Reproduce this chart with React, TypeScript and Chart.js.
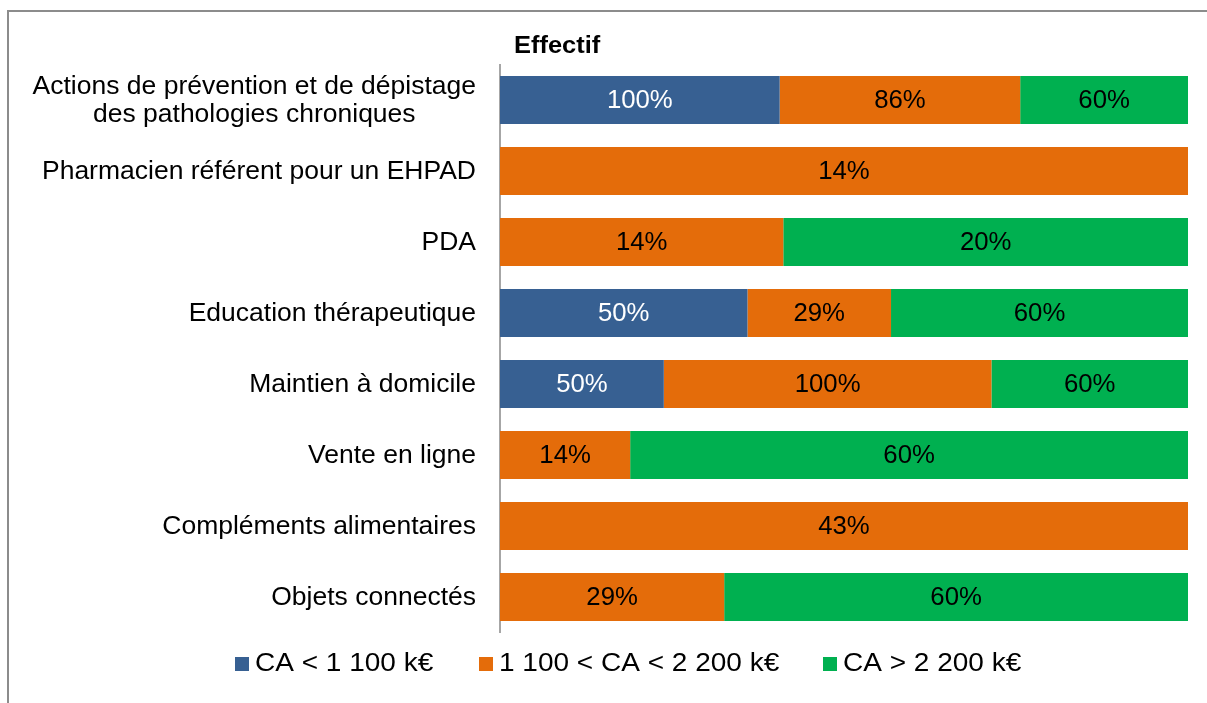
import React, { useEffect, useRef } from "react";
import { Chart, registerables } from "chart.js";

Chart.register(...registerables);

const categories: string[][] = [
  ["Actions de prévention et de dépistage", "des pathologies chroniques"],
  ["Pharmacien référent pour un EHPAD"],
  ["PDA"],
  ["Education thérapeutique"],
  ["Maintien à domicile"],
  ["Vente en ligne"],
  ["Compléments alimentaires"],
  ["Objets connectés"],
];
const seriesNames = ["CA < 1 100 k€", "1 100 < CA < 2 200 k€", "CA > 2 200 k€"];
const lowCA = [100, 0, 0, 50, 50, 0, 0, 0];
const midCA = [86, 14, 14, 29, 100, 14, 43, 29];
const highCA = [60, 0, 20, 60, 60, 60, 0, 60];
const colors = ["#376092", "#E46C0A", "#00B050"];
const labelColors = ["#ffffff", "#000000", "#000000"];
const titleText = "Effectif";

const FONT = "'Liberation Sans', Arial, sans-serif";

function drawText(ctx: CanvasRenderingContext2D, text: string, x: number, y: number, align: "left" | "center" | "right", sx: number) {
  const w = ctx.measureText(text).width * sx;
  let left = x;
  if (align === "center") left = x - w / 2;
  else if (align === "right") left = x - w;
  ctx.save();
  ctx.translate(left, y);
  ctx.scale(sx, 1);
  ctx.textAlign = "left";
  ctx.fillText(text, 0, 0);
  ctx.restore();
}

export default function App() {
  const ref = useRef<HTMLCanvasElement>(null);
  useEffect(() => {
    const raw = [lowCA, midCA, highCA];
    const totals = categories.map((_, i) => raw.reduce((s, a) => s + a[i], 0));
    const norm = raw.map((a) => a.map((v, i) => (v ? (v / totals[i]) * 100 : null)));

    const drawPlugin = {
      id: "custom",
      afterDraw(chart: any) {
        const ctx = chart.ctx as CanvasRenderingContext2D;
        const area = chart.chartArea;
        const yScale = chart.scales.y;
        ctx.save();
        ctx.textBaseline = "middle";
        // title
        ctx.font = `bold 24px ${FONT}`;
        ctx.fillStyle = "#000";
        drawText(ctx, titleText, area.left + 14, 46, "left", 1.06);
        // y labels
        ctx.font = `25px ${FONT}`;
        const lsx = 1.06;
        categories.forEach((lines, i) => {
          const yc = yScale.getPixelForValue(i) + 1.5;
          const lh = 28;
          const widths = lines.map((l) => ctx.measureText(l).width * lsx);
          const maxW = Math.max(...widths);
          const right = area.left - 24;
          const cx = right - maxW / 2;
          lines.forEach((l, j) => {
            const y = yc + (j - (lines.length - 1) / 2) * lh;
            drawText(ctx, l, cx, y, "center", lsx);
          });
        });
        // data labels
        chart.data.datasets.forEach((ds: any, di: number) => {
          const meta = chart.getDatasetMeta(di);
          meta.data.forEach((bar: any, i: number) => {
            const v = raw[di][i];
            if (!v) return;
            const cx = (bar.x + bar.base) / 2;
            ctx.fillStyle = labelColors[di];
            drawText(ctx, v + "%", cx, bar.y + 1.5, "center", 1.03);
          });
        });
        // legend
        const ly = 664;
        const starts = [235, 479, 823];
        seriesNames.forEach((n, i) => {
          ctx.fillStyle = colors[i];
          ctx.fillRect(starts[i], ly - 7, 14, 14);
          ctx.fillStyle = "#000";
          drawText(ctx, n, starts[i] + 20, ly, "left", 1.12);
        });
        ctx.restore();
      },
    };

    const chart = new Chart(ref.current!, {
      type: "bar",
      data: {
        labels: categories.map((c) => c.join(" ")),
        datasets: seriesNames.map((n, i) => ({
          label: n,
          data: norm[i],
          backgroundColor: colors[i],
          borderWidth: 0,
          categoryPercentage: 1,
          barPercentage: 0.676,
        })),
      },
      options: {
        indexAxis: "y",
        animation: false,
        responsive: false,
        layout: { padding: { left: 500, right: 19, top: 64.5, bottom: 70.5 } },
        plugins: { legend: { display: false }, title: { display: false }, tooltip: { enabled: false } },
        scales: {
          x: { stacked: true, display: false, min: 0, max: 100 },
          y: {
            stacked: true,
            grid: { display: false, drawTicks: false },
            ticks: { display: false },
            border: { display: true, color: "#a6a6a6", width: 2 },
            afterFit: (s: any) => {
              s.width = 0;
            },
          },
        },
      },
      plugins: [drawPlugin],
    });
    return () => chart.destroy();
  }, []);

  return (
    <div style={{ position: "fixed", left: 0, top: 0, width: 1207, height: 703, overflow: "hidden", background: "#fff" }}>
      <div
        style={{
          position: "absolute",
          left: 7,
          top: 10,
          width: 1300,
          height: 800,
          border: "2px solid #8c8c8c",
        }}
      />
      <canvas ref={ref} width={1207} height={703} style={{ position: "absolute", left: 0, top: 0 }} />
    </div>
  );
}
